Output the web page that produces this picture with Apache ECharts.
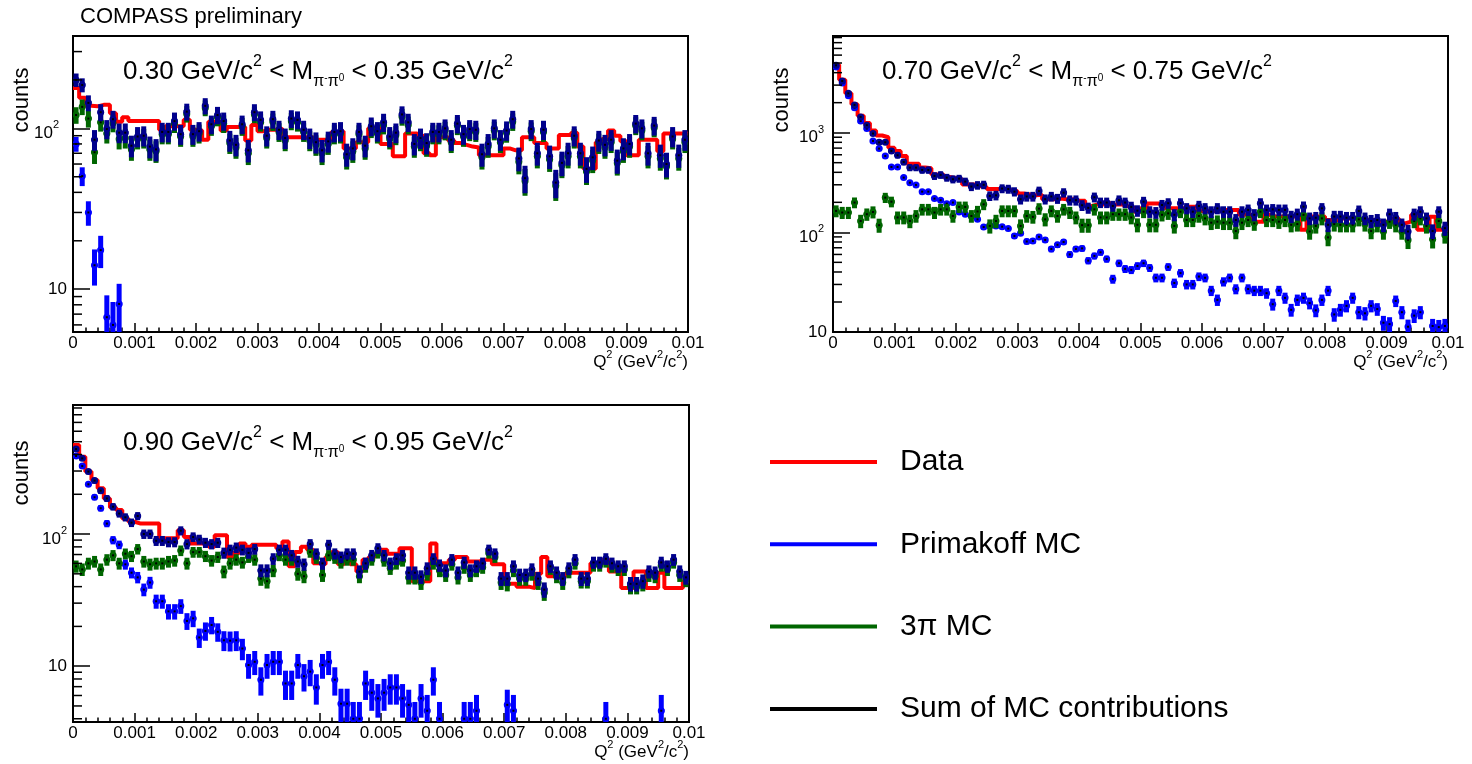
<!DOCTYPE html>
<html><head><meta charset="utf-8">
<script src="https://cdn.jsdelivr.net/npm/echarts@6/dist/echarts.min.js"></script>
<style>html,body{margin:0;padding:0;background:#fff}#c{width:1472px;height:764px}</style>
</head><body><div id="c"></div>
<script>
// ---------- binning (Q^2 in GeV^2/c^2) ----------
const qMin = 0, qMax = 0.01, binWidth = 0.0001, nBins = 100;
const xTickStep = 0.001;

// ---------- panel 1 : 0.30 < M < 0.35 ----------
const p1Data = [178,155,138,137,140,140,124,110,117,111, 111,111,111,111,98,103,103,103,113,98,
 97,85,110,110,97,102,102,102,84,105, 96,98,98,100,88,88,88,88,88,85,
 85,85,95,96,75,75,82,82,100,100, 80,80,67,67,93,93,90,70,68,88,
 88,84,81,79,77,76,68,68,68,68, 75,73,73,88,88,81,81,75,75,91,
 91,94,77,56,56,82,86,97,90,83, 68,68,85,85,85,72,93,93,93,93];
const p1Prim = [80,50.5,30,14.1,17.5,6.7,6.0,8.1,null,null, null,null,null,null,null,null,null,null,null,null,
 null,null,null,null,null,null,null,null,null,null, null,null,null,null,null,null,null,null,null,null,
 null,null,null,null,null,null,null,null,null,null, null,null,null,null,null,null,null,null,null,null,
 null,null,null,null,null,null,null,null,null,null, null,null,null,null,null,null,null,null,null,null,
 null,null,null,null,null,null,null,null,null,null, null,null,null,null,null,null,null,null,null,null];
const p1ThreePi = [121,136,115,71,109,93,108,86,87,74, 86,87,74,72,92,92,107,89,123,89,
 93,134,103,117,107,81,76,103,70,122, 109,87,110,95,84,111,109,95,84,79,
 70,80,92,93,66,72,92,75,100,93, 105,86,91,118,105,77,84,78,92,92,
 97,82,104,89,96,95,66,77,97,82, 94,110,62,47,96,67,95,64,44,59,
 67,87,67,54,63,81,76,82,61,72, 77,104,97,67,101,65,58,86,65,82];
const p1Sum = [200,186,144,85,126,99,114,94,94,78, 89,90,77,74,95,95,111,92,127,92,
 96,138,106,121,111,84,79,106,73,126, 113,90,114,98,87,115,113,98,87,82,
 73,83,95,96,69,75,95,78,103,96, 109,89,94,122,109,80,87,81,95,95,
 100,85,107,92,99,98,69,80,100,85, 97,114,65,49,99,70,98,67,46,61,
 70,90,70,56,66,84,79,85,63,75, 80,107,100,70,104,68,60,89,68,85];

// ---------- panel 2 : 0.70 < M < 0.75 ----------
const p2Data = [4800,3400,2480,1930,1480,1250,1050,937,900,706, 655,584,487,487,447,440,380,380,360,350,
 340,302,302,290,285,272,272,272,265,258, 245,240,235,238,215,215,218,215,215,208,
 208,183,190,190,199,190,190,183,176,161, 174,195,195,188,174,174,174,181,181,164,
 164,164,164,168,168,168,150,150,128,128, 150,144,144,144,144,144,106,144,144,144,
 133,133,138,138,138,133,133,133,128,128, 128,138,123,128,150,106,106,143,106,106];
const p2Prim = [4550,3150,2350,1780,1310,1100,826,692,584,453, 453,354,315,299,256,256,218,210,194,199,
 160,152,146,135,113,118,116,114,109,92, 98,81,82,90,84,68,75,80,60,68,
 69,52,58,63,54,34,49,43,42,46, 49,44,35,35,45,31,39,30,30,36,
 35,26,21,32,35,27,35,27,26,26, 24.5,19,26,22,16.7,21,22,19.5,16.5,21,
 26,15,16.7,18.3,22,15.8,15.4,18.3,17,12.4, 12,20.5,15.8,11.3,14.6,15.8,null,11.5,11.2,11.5];
const p2ThreePi = [164,158,158,199,130,152,160,118,223,203, 141,141,130,146,170,170,158,170,170,146,
 180,180,146,162,191,116,130,164,164,164, 116,146,143,173,135,164,146,170,158,141,
 118,118,170,141,141,152,152,152,141,119, 161,119,119,150,155,116,161,133,133,146,
 138,125,128,125,125,103,125,133,123,161, 133,133,128,133,119,121,150,102,116,138,
 89,121,119,119,119,135,121,103,119,102, 128,119,102,84,130,138,116,85,130,94];
const p2Sum = [4740,3300,2480,1900,1440,1190,980,800,800,656, 593,508,446,446,422,422,368,377,354,341,
 346,323,288,297,300,232,235,275,272,256, 215,229,229,260,215,229,218,250,210,210,
 187,176,225,199,199,184,210,199,180,165, 203,161,158,188,196,150,196,174,161,184,
 174,161,174,161,161,133,161,168,150,196, 168,170,168,168,144,152,181,138,140,174,
 119,144,144,140,140,164,138,130,133,119, 152,140,119,102,152,161,138,103,161,110];

// ---------- panel 3 : 0.90 < M < 0.95 ----------
const p3Data = [472,385,297,256,222,186,159,152,131,124, 120,120,120,120,93,93,93,107,95,85,
 85,85,80,98,98,67,72,85,80,83, 83,83,83,78,88,57,73,80,76,60,
 59,67,73,59,67,59,52,64,67,71, 76,71,71,78,78,44,44,44,85,60,
 60,64,67,67,62,62,64,64,59,59, 42,42,40,40,39,50,67,48,48,48,
 51,51,51,51,60,60,64,52,52,39, 39,52,52,39,39,51,39,39,39,44];
const p3Prim = [390,327,238,190,157,120,90,83,59,51, 47,38,43,31,31,26,26,28.5,22,23,
 16.5,18.5,20.5,18.2,15.7,15.6,15.7,13.6,10.2,10.8, 7.9,10.2,10.8,10.8,7.4,7.4,10.2,8.4,9.1,6.9,
 10.2,10.8,7.9,5.2,5.2,4,4,7.4,6.3,5.7, 6.3,6.9,6.9,5.7,5.1,4,5.7,4.6,7.9,4,
 null,null,null,4,4,4.6,null,null,null,null, 5.1,4.6,null,null,null,null,null,null,null,null,
 null,null,null,null,null,null,4,null,null,null, null,null,null,null,null,4.6,null,null,null,null];
const p3ThreePi = [57,54,60,62,54,64,69,60,71,68, 77,62,59,60,60,62,63,75,60,73,
 73,68,63,67,52,60,64,61,67,64, 46,44,53,69,64,64,50,48,73,66,
 49,69,66,61,64,64,48,57,64,72, 63,55,60,63,47,47,43,50,60,53,
 49,59,47,56,49,53,56,72,67,43, 42,53,46,46,50,43,36,55,48,43,
 52,60,44,44,58,58,62,57,54,54, 40,40,42,49,48,58,54,61,49,45];
const p3Sum = [440,374,297,254,213,186,161,143,134,122, 137,100,100,89,89,87,87,106,84,95,
 91,86,84,86,72,76,79,76,72,77, 53,53,65,76,76,69,62,59,84,71,
 60,83,71,67,71,71,52,60,69,78, 69,60,65,69,51,51,47.5,55,65,58,
 53,64,51,61,53,57,60,76,71,46, 46,57,49,49,54,46,38,57,51,46,
 55,64,46,46,61,61,65,60,57,57, 42,42,44,52,51,61,57,64,52,47];

// ---------- axis ranges / tick labels ----------
const yRanges = [[5.42, 375], [10, 9330], [3.78, 948]];
const yDecadeLabels = {10: '10', 100: '10{e|2}', 1000: '10{e|3}'};

// ---------- style ----------
const FONT = '"Liberation Sans", Arial, Helvetica, sans-serif';
const C_DATA = '#ff0000', C_PRIM = '#0000ff', C_3PI = '#006600', C_SUM = '#00008c';
const grids = [
  {left: 73, top: 36, width: 615, height: 296},
  {left: 833, top: 36, width: 615, height: 296},
  {left: 73, top: 405, width: 616, height: 317}
];
const expGap = [8, 3, 0];
const errScale = [
  {prim: 0.95, pi3: 1.3, sum: 1.36},
  {prim: 0.6, pi3: 1.75, sum: 1.7},
  {prim: 0.68, pi3: 0.8, sum: 0.82}
];
const panels = [
  {data: p1Data, prim: p1Prim, pi3: p1ThreePi, sum: p1Sum},
  {data: p2Data, prim: p2Prim, pi3: p2ThreePi, sum: p2Sum},
  {data: p3Data, prim: p3Prim, pi3: p3ThreePi, sum: p3Sum}
];

const chart = echarts.init(document.getElementById('c'), null, {renderer: 'canvas'});

function binCenter(i) { return qMin + (i + 0.5) * binWidth; }

function markerSeries(name, pi, values, color, k, z) {
  const data = [];
  values.forEach((v, i) => { if (v != null) data.push([binCenter(i), v, k * Math.sqrt(v)]); });
  return {
    type: 'custom', name, xAxisIndex: pi, yAxisIndex: pi, z, clip: true, silent: true,
    itemStyle: {color},
    data,
    renderItem(params, api) {
      const x = api.value(0), y = api.value(1), e = api.value(2);
      const c = api.coord([x, y]);
      const t = api.coord([x, y + e]);
      const b = api.coord([x, Math.max(y - e, 1e-3)]);
      const r = api.coord([x + binWidth / 2, y]);
      const hw = r[0] - c[0];
      return {type: 'group', children: [
        {type: 'rect', shape: {x: c[0] - 2.5, y: t[1], width: 5, height: Math.max(b[1] - t[1], 0)}, style: {fill: color}},
        {type: 'rect', shape: {x: c[0] - hw, y: c[1] - 1.5, width: 2 * hw, height: 3}, style: {fill: color}},
        {type: 'circle', shape: {cx: c[0], cy: c[1], r: 3.5}, style: {fill: color}},
        {type: 'rect', shape: {x: c[0] - 1, y: c[1] - 1, width: 2, height: 2}, style: {fill: '#000'}}
      ]};
    }
  };
}

function histSeries(pi, values) {
  const pts = values.map((v, i) => [qMin + i * binWidth, v]);
  pts.push([qMax, values[values.length - 1]]);
  return {
    type: 'line', name: 'Data', xAxisIndex: pi, yAxisIndex: pi, z: 2, step: 'end',
    symbol: 'none', clip: true, silent: true, data: pts,
    lineStyle: {color: C_DATA, width: 4}, itemStyle: {color: C_DATA}
  };
}

function minorTickSeries(pi) {
  const [lo, hi] = yRanges[pi];
  const vals = [];
  for (let d = 1; d <= 1000; d *= 10) for (let m = 2; m <= 9; m++) { const v = m * d; if (v > lo && v < hi) vals.push([qMin, v]); }
  return {
    type: 'custom', xAxisIndex: pi, yAxisIndex: pi, z: 10, silent: true, data: vals,
    renderItem(params, api) {
      const p = api.coord([api.value(0), api.value(1)]);
      return {type: 'line', shape: {x1: p[0], y1: p[1], x2: p[0] + 9, y2: p[1]}, style: {stroke: '#000', lineWidth: 1.5}};
    }
  };
}

const xAxes = grids.map((g, i) => ({
  type: 'value', gridIndex: i, min: qMin, max: qMax, interval: xTickStep,
  axisLine: {show: true, onZero: false, lineStyle: {color: '#000', width: 2}},
  axisTick: {show: true, inside: true, length: 9, lineStyle: {color: '#000', width: 1.5}},
  minorTick: {show: true, splitNumber: 5, length: 4.5, lineStyle: {color: '#000', width: 1.5}},
  axisLabel: {color: '#000', fontSize: 17, fontFamily: FONT, margin: 3,
    formatter: v => String(parseFloat(v.toFixed(4)))},
  splitLine: {show: false}
}));

const yAxes = grids.map((g, i) => ({
  type: 'log', logBase: 10, gridIndex: i, min: yRanges[i][0], max: yRanges[i][1],
  axisLine: {show: true, onZero: false, lineStyle: {color: '#000', width: 2}},
  axisTick: {show: true, inside: true, length: 17, lineStyle: {color: '#000', width: 1.5}},
  minorTick: {show: false},
  splitLine: {show: false},
  axisLabel: {color: '#000', fontFamily: FONT, margin: 6,
    formatter: v => {
      const l = Math.log10(v);
      if (Math.abs(l - Math.round(l)) > 1e-6) return '';
      const key = Math.round(Math.pow(10, Math.round(l)));
      const s = yDecadeLabels[key];
      if (!s) return '';
      return key === 10 ? '{p|' + s + '}' : '{b|' + s.replace('{e|', '}{e|') + (expGap[i] ? '{g| }' : '');
    },
    rich: {
      p: {fontSize: 17, fontFamily: FONT, color: '#000'},
      b: {fontSize: 17, lineHeight: 17, padding: [5, 0, 0, 0], verticalAlign: 'top', fontFamily: FONT, color: '#000'},
      e: {fontSize: 11, lineHeight: 11, verticalAlign: 'top', fontFamily: FONT, color: '#000'},
      g: {width: expGap[i]}
    }
  }
}));

const series = [];
panels.forEach((p, i) => {
  series.push(histSeries(i, p.data));
  series.push(markerSeries('Primakoff MC', i, p.prim, C_PRIM, errScale[i].prim, 3));
  series.push(markerSeries('3π MC', i, p.pi3, C_3PI, errScale[i].pi3, 4));
  series.push(markerSeries('Sum of MC contributions', i, p.sum, C_SUM, errScale[i].sum, 5));
  series.push(minorTickSeries(i));
});

// ---------- texts ----------
const labelRich = {
  n: {fontSize: 26, lineHeight: 26, padding: [5, 0, 0, 0], verticalAlign: 'top', fontFamily: FONT, fill: '#000'},
  s: {fontSize: 16, lineHeight: 16, verticalAlign: 'top', fontFamily: FONT, fill: '#000'},
  u: {fontSize: 16, lineHeight: 16, padding: [20, 0, 0, 0], verticalAlign: 'top', fontFamily: FONT, fill: '#000'},
  w: {fontSize: 10, lineHeight: 10, padding: [19, 0, 0, 0], verticalAlign: 'top', fontFamily: FONT, fill: '#000'}
};
function massLabel(lo, hi) {
  return '{n|' + lo + ' GeV/c}{s|2}{n| < M}{u|π}{w|-}{u|π}{w|0}{n| < ' + hi + ' GeV/c}{s|2}';
}
const massBins = [['0.30', '0.35'], ['0.70', '0.75'], ['0.90', '0.95']];
const labelPos = [[123, 54], [882, 54], [123, 425]];
const countsPos = [[22, 100], [782, 100], [22, 473]];
const qTitlePos = [[688, 349], [1448, 349], [689, 739]];
const qRich = {
  q: {fontSize: 17, lineHeight: 17, padding: [5, 0, 0, 0], verticalAlign: 'top', fontFamily: FONT, fill: '#000'},
  s: {fontSize: 11, lineHeight: 11, verticalAlign: 'top', fontFamily: FONT, fill: '#000'}
};
const graphics = [
  {type: 'text', left: 80, top: 6, style: {text: 'COMPASS preliminary', font: '22px ' + FONT, fill: '#000'}}
];
massBins.forEach((m, i) => {
  graphics.push({type: 'text', x: labelPos[i][0], y: labelPos[i][1],
    style: {text: massLabel(m[0], m[1]), rich: labelRich, textVerticalAlign: 'top'}});
  graphics.push({type: 'text', x: countsPos[i][0], y: countsPos[i][1], rotation: Math.PI / 2,
    style: {text: 'counts', font: '22px ' + FONT, fill: '#000', textAlign: 'center', textVerticalAlign: 'middle'}});
  graphics.push({type: 'text', x: qTitlePos[i][0], y: qTitlePos[i][1],
    style: {text: '{q|Q}{s|2}{q| (GeV}{s|2}{q|/c}{s|2}{q|)}', rich: qRich, textAlign: 'right', textVerticalAlign: 'top'}});
});

chart.setOption({
  animation: false,
  backgroundColor: '#fff',
  grid: grids.map(g => Object.assign({show: true, borderColor: '#000', borderWidth: 2, backgroundColor: 'transparent'}, g)),
  xAxis: xAxes,
  yAxis: yAxes,
  legend: {
    orient: 'vertical', left: 770, top: 447, padding: 0, itemWidth: 107, itemHeight: 4, itemGap: 52.3,
    icon: 'rect', selectedMode: false,
    textStyle: {fontSize: 30, fontFamily: FONT, color: '#000', lineHeight: 30, padding: [0, 0, 0, 18]},
    data: [
      {name: 'Data', itemStyle: {color: C_DATA}},
      {name: 'Primakoff MC', itemStyle: {color: C_PRIM}},
      {name: '3π MC', itemStyle: {color: C_3PI}},
      {name: 'Sum of MC contributions', itemStyle: {color: '#000'}}
    ]
  },
  graphic: {elements: graphics},
  series
});
</script></body></html>
